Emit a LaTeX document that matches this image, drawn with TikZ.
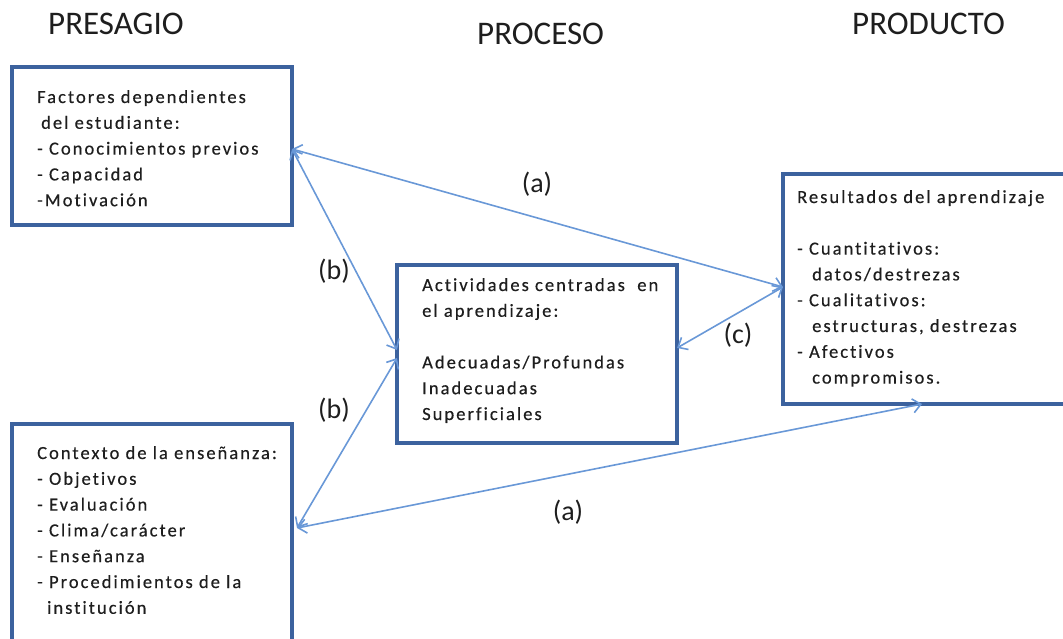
\documentclass[tikz,border=0pt]{standalone}
\usepackage{fontspec}
\setmainfont{Carlito}
\newfontfamily\boxfont[LetterSpace=11,Ligatures={NoCommon},FakeBold=0.4]{Carlito}
\usetikzlibrary{arrows.meta,calc}
\definecolor{boxblue}{RGB}{60,98,158}
\definecolor{linkblue}{RGB}{105,152,215}
\definecolor{ink}{RGB}{30,30,30}

\begin{document}
\begin{tikzpicture}[x=1pt,y=-1pt,
  panel/.style={draw=boxblue, line width=3.4pt, fill=white, outer sep=0pt, inner sep=0pt, anchor=north west},
  body/.style={anchor=base west, inner sep=0pt, text=ink, font=\boxfont\fontsize{18.5}{25.8}\selectfont},
  heading/.style={anchor=base west, inner sep=0pt, text=ink, font=\fontsize{33}{36}\selectfont},
  tag/.style={anchor=center, inner sep=0pt, text=ink, font=\fontsize{28}{32}\selectfont},
  link/.style={draw=linkblue, line width=1.6pt,
    {Straight Barb[length=8pt,width=14pt]}-{Straight Barb[length=8pt,width=14pt]}}
]
\useasboundingbox (0,0) rectangle (1063,639);
\clip (0,0) rectangle (1063,639);

% column headings
\node[heading] (h1) at (48,35) {PRESAGIO};
\node[heading] (h2) at (477,45) {PROCESO};
\node[heading] (h3) at (852,35) {PRODUCTO};

% boxes
\node[panel, minimum width=280pt, minimum height=158pt] (fac) at (12,67) {};
\node[panel, minimum width=280pt, minimum height=235pt] (ctx) at (12,424) {};
\node[panel, minimum width=280pt, minimum height=178pt] (act) at (397,265) {};
\node[panel, minimum width=300pt, minimum height=230pt] (res) at (783,174) {};

% box contents
\node[body] (facT) at (37,103) {\begin{tabular}[t]{@{}l@{}}
Factores dependientes\\
\hspace*{4pt}del estudiante:\\
- Conocimientos previos\\
- Capacidad\\
-Motivación
\end{tabular}};

\node[body] (ctxT) at (37,459) {\begin{tabular}[t]{@{}l@{}}
Contexto de la enseñanza:\\
- Objetivos\\
- Evaluación\\
- Clima/carácter\\
- Enseñanza\\
- Procedimientos de la\\
\hspace*{10pt}institución
\end{tabular}};

\node[body] (actT) at (422,291) {\begin{tabular}[t]{@{}l@{}}
Actividades centradas~ en\\
el aprendizaje:\\
\mbox{}\\
Adecuadas/Profundas\\
Inadecuadas\\
Superficiales
\end{tabular}};

\node[body] (resT) at (797,203) {\begin{tabular}[t]{@{}l@{}}
Resultados del aprendizaje\\
\mbox{}\\
- Cuantitativos:\\
\hspace*{15pt}datos/destrezas\\
- Cualitativos:\\
\hspace*{15pt}estructuras, destrezas\\
- Afectivos\\
\hspace*{15pt}compromisos.
\end{tabular}};

% connection points on the box edges
\coordinate (facE) at ($(fac.north east)+(0,82)$);
\coordinate (actW1) at ($(act.north west)+(0,85)$);
\coordinate (actW2) at ($(act.north west)+(0,93)$);
\coordinate (actE) at ($(act.north east)+(0,83)$);
\coordinate (resW) at ($(res.north west)+(0,113)$);
\coordinate (resS) at ($(res.south west)+(139,0)$);
\coordinate (ctxE) at ($(ctx.north east)+(5,104)$);

% links
\draw[link] (facE) -- (resW);
\draw[link] (facE) -- (actW1);
\draw[link] (actW2) -- (ctxE);
\draw[link] (ctxE) -- (resS);
\draw[link] (resW) -- (actE);

% link labels
\node[tag] (la1) at (537,184) {(a)};
\node[tag] (lb1) at (334,271) {(b)};
\node[tag] (lb2) at (334,410) {(b)};
\node[tag] (lc) at (738,335) {(c)};
\node[tag] (la2) at (568,512) {(a)};
\end{tikzpicture}
\end{document}
